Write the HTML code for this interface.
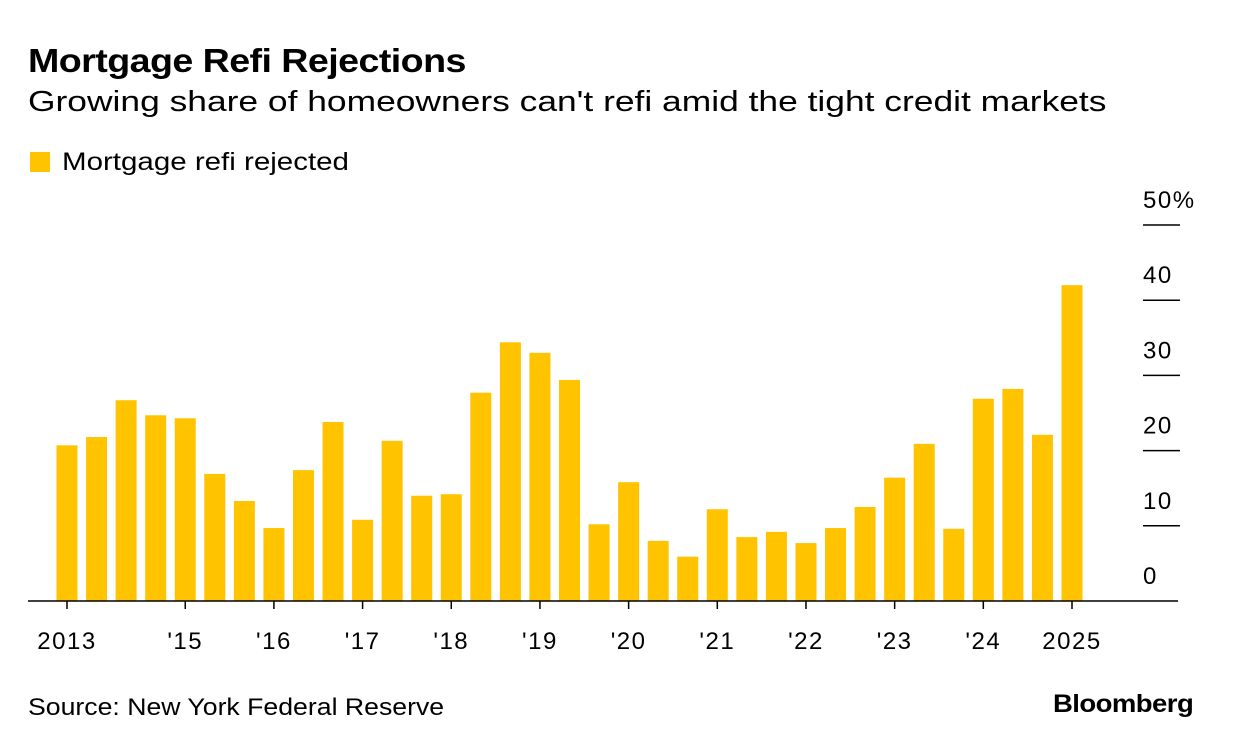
<!DOCTYPE html>
<html><head><meta charset="utf-8"><style>
body{margin:0;width:1233px;height:750px;background:#fff;font-family:"Liberation Sans",sans-serif;color:#000;overflow:hidden;position:relative}
.t{position:absolute;white-space:nowrap;transform-origin:0 0}
</style></head><body>
<div class="t" style="left:28px;top:42px;font-size:33px;font-weight:bold;letter-spacing:-0.5px;transform:scaleX(1.14)">Mortgage Refi Rejections</div>
<div class="t" style="left:28px;top:86px;font-size:29px;transform:scaleX(1.22)">Growing share of homeowners can't refi amid the tight credit markets</div>
<div class="t" style="left:30px;top:152px;width:20px;height:20px;background:#ffc300"></div>
<div class="t" style="left:62px;top:148px;font-size:25px;transform:scaleX(1.18)">Mortgage refi rejected</div>
<svg id="chart" width="1233" height="750" style="position:absolute;left:0;top:0"></svg>
<div class="t" style="left:28px;top:694px;font-size:24px;transform:scaleX(1.11)">Source: New York Federal Reserve</div>
<div class="t" style="left:1053px;top:690px;font-size:25px;font-weight:bold;letter-spacing:-0.5px;transform:scaleX(1.1)">Bloomberg</div>
<script>
const values=[20.7,21.8,26.7,24.7,24.3,16.9,13.3,9.7,17.4,23.8,10.8,21.3,14.0,14.2,27.7,34.4,33.0,29.4,10.2,15.8,8.0,5.9,12.2,8.5,9.2,7.7,9.7,12.5,16.4,20.9,9.6,26.9,28.2,22.1,42.0];
const xTickIdx=[0,4,7,10,13,16,19,22,25,28,31,34];
const xTickLabels=["2013","'15","'16","'17","'18","'19","'20","'21","'22","'23","'24","2025"];
const yTicks=[0,10,20,30,40,50];
const yTickLabels=["0","10","20","30","40","50%"];
const NS="http://www.w3.org/2000/svg";
const svg=document.getElementById('chart');
const x0=67,step=(1072-67)/34,bw=21;
const xs=i=>x0+i*step;
const ys=v=>601-v*7.52;
function mk(t,a){const e=document.createElementNS(NS,t);for(const k in a)e.setAttribute(k,a[k]);svg.appendChild(e);return e;}
values.forEach((v,i)=>{const r=mk('rect',{x:xs(i)-bw/2,y:ys(v),width:bw,height:601-ys(v),fill:'#ffc300'});

});
yTicks.forEach((v,i)=>{
 if(v>0){const l=mk('line',{x1:1143,x2:1180,y1:ys(v),y2:ys(v),stroke:'#000','stroke-width':1.5});
 
 }
 const t=mk('text',{x:1143,y:ys(v)-17,'font-size':24,'letter-spacing':1.5,'font-family':'Liberation Sans, sans-serif'});t.textContent=yTickLabels[i];
 
 });
const b=mk('line',{x1:28,x2:1178,y1:601,y2:601,stroke:'#000','stroke-width':1.5});


xTickIdx.forEach((idx,i)=>{const x=xs(idx);
 const tk=mk('line',{x1:x,x2:x,y1:601,y2:609,stroke:'#000','stroke-width':1.5});
 
 
 const t=mk('text',{x:x,y:649,'font-size':24,'letter-spacing':1.5,'text-anchor':'middle','font-family':'Liberation Sans, sans-serif'});t.textContent=xTickLabels[i];
 
 });
</script>
</body></html>
